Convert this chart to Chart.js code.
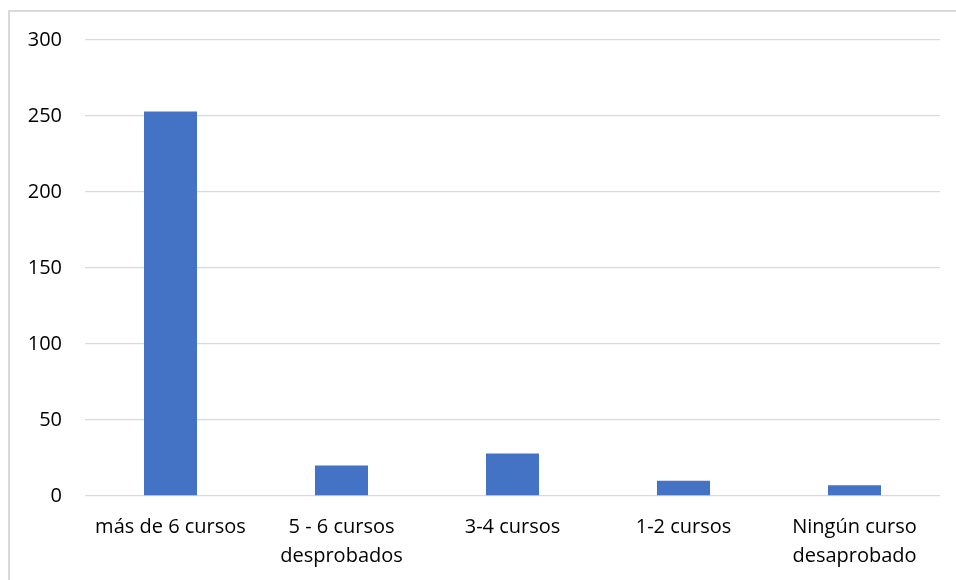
<!DOCTYPE html>
<html>
<head>
<meta charset="utf-8">
<script src="https://cdn.jsdelivr.net/npm/chart.js@4/dist/chart.umd.min.js"></script>
<style>
  html, body { margin: 0; padding: 0; background: #fff; overflow: hidden; }
  #frame {
    position: absolute; left: 8px; top: 10px; width: 1000px; height: 600px;
    border-top: 2px solid #d9d9d9; border-left: 2px solid #d9d9d9;
  }
  #wrap { position: absolute; left: 0; top: 0; width: 956px; height: 580px; }
</style>
</head>
<body>
<div id="frame"></div>
<div id="wrap"><canvas id="grafico"></canvas></div>
<script>
// categorías (cada una puede ir en dos líneas)
const categorias = [
  'más de 6 cursos',
  ['5 - 6 cursos', 'desprobados'],
  '3-4 cursos',
  '1-2 cursos',
  ['Ningún curso', 'desaprobado']
];
const cantidades = [253, 20, 28, 10, 7];
const ejeMin = 0;
const ejeMax = 300;
const ejePaso = 50;

const fuente = { family: "'Open Sans', 'Liberation Sans', sans-serif", size: 20 };

new Chart(document.getElementById('grafico'), {
  type: 'bar',
  data: {
    labels: categorias,
    datasets: [{
      data: cantidades,
      backgroundColor: '#4472c4',
      borderWidth: 0,
      categoryPercentage: 1,
      barPercentage: 0.31
    }]
  },
  options: {
    responsive: true,
    maintainAspectRatio: false,
    animation: false,
    layout: { padding: { top: 40, right: 16, left: 0, bottom: 0 } },
    plugins: { legend: { display: false }, tooltip: { enabled: false } },
    scales: {
      x: {
        grid: { display: false, drawTicks: false },
        border: { display: false },
        ticks: { color: '#000', font: { ...fuente, lineHeight: '29px' }, padding: 17, maxRotation: 0, autoSkip: false },
        afterFit: (s) => { s.height = 84; }
      },
      y: {
        min: ejeMin, max: ejeMax,
        grid: { color: '#d9d9d9', lineWidth: 1.3, drawTicks: false },
        border: { display: false },
        ticks: { stepSize: ejePaso, color: '#000', font: fuente, padding: 23 },
        afterFit: (s) => { s.width = 85; }
      }
    }
  }
});
</script>
</body>
</html>
